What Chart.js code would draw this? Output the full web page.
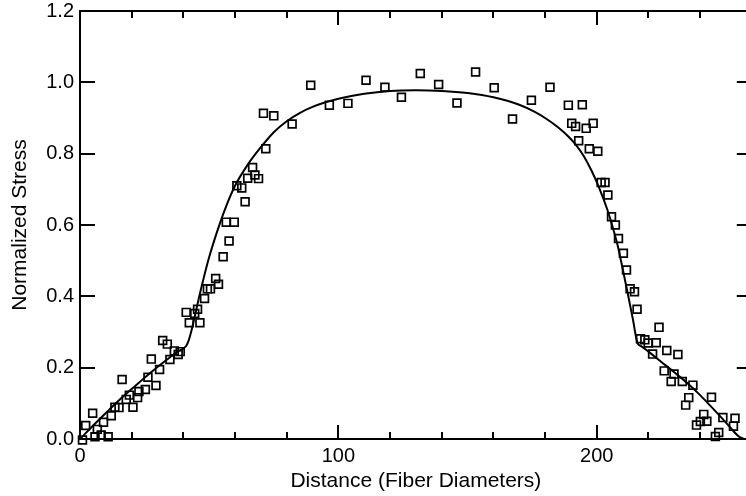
<!DOCTYPE html>
<html><head><meta charset="utf-8">
<script src="https://cdn.jsdelivr.net/npm/chart.js@4.4.1/dist/chart.umd.min.js"></script>
<style>
html,body{margin:0;padding:0;overflow:hidden;background:#fff;width:746px;height:496px}
canvas{display:block}
</style></head>
<body>
<canvas id="c" width="759" height="496"></canvas>
<script>
// Measured data points (Distance, Normalized Stress)
const pointX = [0.96,2.2,4.9,5.8,6.7,8.2,9.1,10.9,12.1,13.5,15.1,16.3,17.9,19.1,20.5,22.3,22.8,25.3,26.3,27.6,29.4,30.8,32.0,33.8,34.8,36.5,38.0,38.8,41.1,42.3,44.4,45.5,46.4,48.2,49.3,50.5,52.5,53.6,55.4,57.7,56.6,59.7,60.7,62.6,63.9,64.9,66.8,67.7,69.1,71.0,71.9,75.0,82.1,89.3,96.5,103.7,110.7,118.0,124.4,131.7,138.8,145.9,153.1,160.3,167.4,174.7,181.9,189.0,194.4,190.3,191.8,195.9,198.6,193.0,197.1,200.4,201.7,203.2,204.3,205.7,207.2,208.4,210.3,211.5,212.9,214.6,215.6,224.1,216.9,218.6,219.9,223.0,221.6,227.1,231.4,226.1,229.9,228.8,233.1,237.2,235.6,234.4,244.4,241.4,240.1,242.6,238.6,248.8,253.5,252.9,247.2,245.9];
const pointY = [-0.003,0.038,0.072,0.006,0.027,0.011,0.047,0.006,0.065,0.089,0.088,0.167,0.111,0.123,0.089,0.116,0.133,0.139,0.173,0.224,0.150,0.195,0.276,0.266,0.223,0.247,0.237,0.245,0.355,0.326,0.352,0.364,0.326,0.394,0.421,0.421,0.450,0.434,0.511,0.555,0.608,0.608,0.710,0.704,0.665,0.731,0.761,0.740,0.730,0.913,0.814,0.906,0.883,0.992,0.936,0.941,1.006,0.986,0.958,1.025,0.994,0.942,1.029,0.985,0.897,0.950,0.986,0.936,0.937,0.885,0.876,0.871,0.885,0.836,0.814,0.807,0.719,0.719,0.684,0.623,0.600,0.562,0.521,0.474,0.421,0.413,0.364,0.313,0.281,0.278,0.269,0.270,0.238,0.248,0.237,0.191,0.182,0.161,0.161,0.151,0.116,0.095,0.117,0.069,0.049,0.050,0.039,0.060,0.058,0.036,0.018,0.007];

// Fitted curve
const curveX = [0,5,10,15,20,25,30,35,38,41,42,43,44,46,48,50,53,56,60,65,70,75,80,85,90,95,100,110,120,130,140,150,160,170,176,180,185,189,192,195,198,201,204,206,208,210,212,214,215.8,217,220,225,230,235,240,245,250,255,257];
const curveY = [0,0.037,0.073,0.108,0.14,0.172,0.202,0.23,0.246,0.26,0.275,0.3,0.33,0.395,0.455,0.51,0.58,0.642,0.71,0.77,0.818,0.86,0.891,0.914,0.931,0.944,0.954,0.968,0.976,0.978,0.976,0.97,0.958,0.937,0.917,0.9,0.874,0.848,0.824,0.793,0.752,0.703,0.645,0.598,0.545,0.478,0.408,0.335,0.268,0.261,0.245,0.216,0.187,0.157,0.123,0.085,0.046,0.007,0];

// Axis ticks
const xTickLabels = [0,100,200];
const xMinorTicks = [0,20,40,60,80,100,120,140,160,180,200,220,240,260];
const yTickLabels = ['0.0','0.2','0.4','0.6','0.8','1.0','1.2'];

const FONT = "'Liberation Sans', Arial, Helvetica, sans-serif";

const frameTicks = {
  id: 'frameTicks',
  afterDraw(chart) {
    const {ctx, chartArea: a, scales: {x, y}} = chart;
    ctx.save();
    ctx.strokeStyle = '#000';
    ctx.lineWidth = 2;
    ctx.beginPath();
    ctx.moveTo(a.left - 1, a.top); ctx.lineTo(a.right + 1, a.top);
    ctx.moveTo(a.right, a.top); ctx.lineTo(a.right, a.bottom);
    xMinorTicks.forEach(v => {
      const px = Math.round(x.getPixelForValue(v));
      const len = (v % 100 === 0) ? 14 : 7;
      ctx.moveTo(px, a.bottom); ctx.lineTo(px, a.bottom - len);
      ctx.moveTo(px, a.top); ctx.lineTo(px, a.top + len);
    });
    yTickLabels.forEach(t => {
      const py = Math.round(y.getPixelForValue(parseFloat(t)));
      ctx.moveTo(a.left, py); ctx.lineTo(a.left + 15, py);
      ctx.moveTo(a.right, py); ctx.lineTo(a.right - 15, py);
    });
    ctx.stroke();
    ctx.restore();
  }
};

new Chart(document.getElementById('c'), {
  type: 'scatter',
  data: {
    datasets: [
      {
        type: 'line',
        data: curveX.map((v, i) => ({x: v, y: curveY[i]})),
        borderColor: '#000',
        borderWidth: 2,
        pointRadius: 0,
        fill: false,
        cubicInterpolationMode: 'monotone',
        clip: false,
        order: 2
      },
      {
        data: pointX.map((v, i) => ({x: v, y: pointY[i]})),
        pointStyle: 'rect',
        pointRadius: 5.5,
        pointBorderWidth: 1.7,
        pointBorderColor: '#000',
        pointBackgroundColor: 'rgba(255,255,255,0)',
        clip: false,
        order: 1
      }
    ]
  },
  options: {
    responsive: false,
    devicePixelRatio: 1,
    animation: false,
    layout: {padding: {top: 11, left: 0, right: 0, bottom: 0}},
    plugins: {legend: {display: false}, tooltip: {enabled: false}},
    scales: {
      x: {
        type: 'linear', min: 0, max: 260,
        grid: {display: false, drawTicks: false},
        border: {display: true, color: '#000', width: 2},
        afterFit: s => { s.height = 57; s.paddingLeft = 0; s.paddingRight = 0; },
        afterBuildTicks: s => { s.ticks = xTickLabels.map(v => ({value: v})); },
        ticks: {
          padding: 5, color: '#000', maxRotation: 0,
          font: {family: FONT, size: 20},
          callback: v => String(v)
        },
        title: {
          display: true, text: 'Distance (Fiber Diameters)', color: '#000',
          font: {family: FONT, size: 21}, padding: {top: 0, bottom: 2}
        }
      },
      y: {
        type: 'linear', min: 0, max: 1.2,
        grid: {display: false, drawTicks: false},
        border: {display: true, color: '#000', width: 2},
        afterFit: s => { s.width = 80; s.paddingTop = 0; s.paddingBottom = 0; },
        afterBuildTicks: s => { s.ticks = yTickLabels.map(t => ({value: parseFloat(t)})); },
        ticks: {
          padding: 6, color: '#000',
          font: {family: FONT, size: 20},
          callback: v => Number(v).toFixed(1)
        },
        title: {
          display: true, text: 'Normalized Stress', color: '#000',
          font: {family: FONT, size: 21}, padding: {top: 7.5, bottom: 0}
        }
      }
    }
  },
  plugins: [frameTicks]
});
</script>
</body></html>
